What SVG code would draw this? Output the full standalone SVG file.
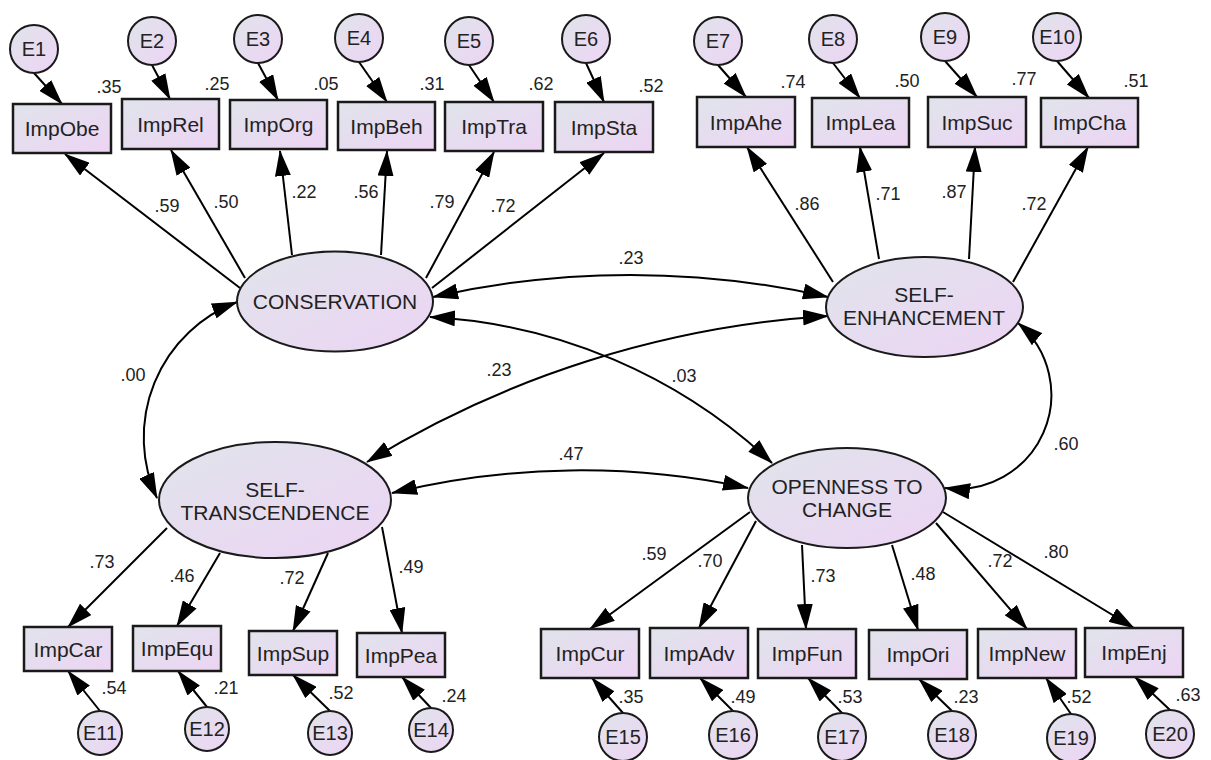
<svg xmlns="http://www.w3.org/2000/svg" width="1211" height="760" viewBox="0 0 1211 760">
<defs>
<linearGradient id="g" x1="0" y1="0" x2="1" y2="1">
<stop offset="0" stop-color="#e0e4eb"/>
<stop offset="1" stop-color="#edd4f4"/>
</linearGradient>
<marker id="ah" viewBox="0 0 26 16" refX="25" refY="8" markerWidth="26" markerHeight="16" markerUnits="userSpaceOnUse" orient="auto-start-reverse">
<path d="M0,0 L26,8 L0,16 z" fill="#000"/>
</marker>
</defs>
<style>
.box{fill:url(#g);stroke:#1a1a1a;stroke-width:2.5}
.lat{fill:url(#g);stroke:#1a1a1a;stroke-width:2}
.err{fill:url(#g);stroke:#1a1a1a;stroke-width:2}
text{font-family:"Liberation Sans",Arial,sans-serif;fill:#222;text-anchor:middle}
.t{font-size:21px}
.e{font-size:20px}
.n{font-size:18px}
#connectors path{fill:none;stroke:#000;stroke-width:2;marker-end:url(#ah)}
#connectors path.cov{marker-start:url(#ah)}
</style>
<rect width="1211" height="760" fill="#fff"/>

<g id="connectors">
<path d="M34,73 L62,104"/>
<path d="M152,65 L170,99"/>
<path d="M258,63 L278,100"/>
<path d="M359,62 L387,102"/>
<path d="M469,65 L494,102"/>
<path d="M586,63 L604,102"/>
<path d="M718,65 L746,97"/>
<path d="M833,63 L860,98"/>
<path d="M945,61 L977,97"/>
<path d="M1057,61 L1089,98"/>
<path d="M240,288 L65,154"/>
<path d="M245,278 L171,150"/>
<path d="M292,255 L280,151"/>
<path d="M381,255 L387,151"/>
<path d="M426,278 L494,152"/>
<path d="M432,288 L604,153"/>
<path d="M833,282 L747,147"/>
<path d="M879,259 L860,147"/>
<path d="M969,259 L975,147"/>
<path d="M1013,282 L1088,147"/>
<path d="M167,528 L68,627"/>
<path d="M220,553 L177,626"/>
<path d="M328,553 L293,631"/>
<path d="M382,527 L402,633"/>
<path d="M750,512 L590,629"/>
<path d="M756,521 L699,628"/>
<path d="M802,545 L806,629"/>
<path d="M892,545 L918,630"/>
<path d="M936,523 L1027,629"/>
<path d="M943,512 L1134,628"/>
<path d="M100,711 L68,671"/>
<path d="M207,707 L178,671"/>
<path d="M330,711 L293,675"/>
<path d="M431,708 L402,677"/>
<path d="M623,713 L592,678"/>
<path d="M733,711 L700,678"/>
<path d="M842,713 L808,678"/>
<path d="M952,711 L919,679"/>
<path d="M1071,714 L1046,678"/>
<path d="M1170,710 L1135,677"/>
<path class="cov" d="M433,297 A893,893 0 0 1 828,297"/>
<path class="cov" d="M430,317 A541,541 0 0 1 772,463"/>
<path class="cov" d="M828,316 A1003,1003 0 0 0 367,462"/>
<path class="cov" d="M237,302 A145,145 0 0 0 157,498"/>
<path class="cov" d="M392,493 A798,798 0 0 1 748,488"/>
<path class="cov" d="M1018,323 A94,94 0 0 1 945,488"/>
</g>

<g id="conservation"><ellipse class="lat" cx="335" cy="301.5" rx="98" ry="50"/><text class="t" x="335" y="309">CONSERVATION</text></g>
<g id="self-enhancement"><ellipse class="lat" cx="924.5" cy="307" rx="98.5" ry="50"/><text class="t" x="924" y="302">SELF-</text><text class="t" x="924" y="325">ENHANCEMENT</text></g>
<g id="self-transcendence"><ellipse class="lat" cx="275" cy="500" rx="116" ry="58"/><text class="t" x="275" y="497">SELF-</text><text class="t" x="275" y="520">TRANSCENDENCE</text></g>
<g id="openness"><ellipse class="lat" cx="847" cy="498" rx="99" ry="50"/><text class="t" x="847" y="494">OPENNESS TO</text><text class="t" x="847" y="517">CHANGE</text></g>

<g id="ImpObe"><rect class="box" x="13" y="104" width="98" height="49"/><text class="t" x="62" y="136">ImpObe</text></g>
<g id="ImpRel"><rect class="box" x="122" y="99" width="97" height="50"/><text class="t" x="170.5" y="131.5">ImpRel</text></g>
<g id="ImpOrg"><rect class="box" x="230" y="100" width="97" height="49"/><text class="t" x="278.5" y="132">ImpOrg</text></g>
<g id="ImpBeh"><rect class="box" x="338" y="102" width="97" height="48"/><text class="t" x="386.5" y="133.5">ImpBeh</text></g>
<g id="ImpTra"><rect class="box" x="445" y="102" width="98" height="49"/><text class="t" x="494" y="134">ImpTra</text></g>
<g id="ImpSta"><rect class="box" x="555" y="102" width="98" height="50"/><text class="t" x="604" y="134.5">ImpSta</text></g>
<g id="ImpAhe"><rect class="box" x="697" y="97" width="98" height="50"/><text class="t" x="746" y="129.5">ImpAhe</text></g>
<g id="ImpLea"><rect class="box" x="812" y="98" width="97" height="49"/><text class="t" x="860.5" y="130">ImpLea</text></g>
<g id="ImpSuc"><rect class="box" x="928" y="97" width="98" height="50"/><text class="t" x="977" y="129.5">ImpSuc</text></g>
<g id="ImpCha"><rect class="box" x="1041" y="98" width="97" height="49"/><text class="t" x="1089.5" y="130">ImpCha</text></g>

<g id="ImpCar"><rect class="box" x="24" y="627" width="88" height="44"/><text class="t" x="68" y="656.5">ImpCar</text></g>
<g id="ImpEqu"><rect class="box" x="133" y="626" width="88" height="45"/><text class="t" x="177" y="656">ImpEqu</text></g>
<g id="ImpSup"><rect class="box" x="249" y="631" width="88" height="44"/><text class="t" x="293" y="660.5">ImpSup</text></g>
<g id="ImpPea"><rect class="box" x="357" y="633" width="88" height="44"/><text class="t" x="401" y="662.5">ImpPea</text></g>

<g id="ImpCur"><rect class="box" x="541" y="629" width="98" height="49"/><text class="t" x="590" y="661">ImpCur</text></g>
<g id="ImpAdv"><rect class="box" x="650" y="628" width="98" height="50"/><text class="t" x="699" y="660.5">ImpAdv</text></g>
<g id="ImpFun"><rect class="box" x="758" y="629" width="98" height="49"/><text class="t" x="807" y="661">ImpFun</text></g>
<g id="ImpOri"><rect class="box" x="869" y="630" width="98" height="49"/><text class="t" x="918" y="662">ImpOri</text></g>
<g id="ImpNew"><rect class="box" x="978" y="629" width="98" height="49"/><text class="t" x="1027" y="661">ImpNew</text></g>
<g id="ImpEnj"><rect class="box" x="1085" y="628" width="98" height="49"/><text class="t" x="1134" y="660">ImpEnj</text></g>

<g id="E1"><circle class="err" cx="34" cy="49" r="24"/><text class="e" x="34" y="56">E1</text></g>
<g id="E2"><circle class="err" cx="152" cy="41" r="24"/><text class="e" x="152" y="48">E2</text></g>
<g id="E3"><circle class="err" cx="258" cy="39" r="24"/><text class="e" x="258" y="46">E3</text></g>
<g id="E4"><circle class="err" cx="359" cy="38" r="24"/><text class="e" x="359" y="45">E4</text></g>
<g id="E5"><circle class="err" cx="469" cy="41" r="24"/><text class="e" x="469" y="48">E5</text></g>
<g id="E6"><circle class="err" cx="586" cy="39" r="24"/><text class="e" x="586" y="46">E6</text></g>
<g id="E7"><circle class="err" cx="718" cy="41" r="24"/><text class="e" x="718" y="48">E7</text></g>
<g id="E8"><circle class="err" cx="833" cy="39" r="24"/><text class="e" x="833" y="46">E8</text></g>
<g id="E9"><circle class="err" cx="945" cy="37" r="24"/><text class="e" x="945" y="44">E9</text></g>
<g id="E10"><circle class="err" cx="1057" cy="37" r="24"/><text class="e" x="1057" y="44">E10</text></g>
<g id="E11"><circle class="err" cx="100" cy="733" r="22"/><text class="e" x="100" y="740">E11</text></g>
<g id="E12"><circle class="err" cx="207" cy="729" r="22"/><text class="e" x="207" y="736">E12</text></g>
<g id="E13"><circle class="err" cx="330" cy="733" r="22"/><text class="e" x="330" y="740">E13</text></g>
<g id="E14"><circle class="err" cx="431" cy="730" r="22"/><text class="e" x="431" y="737">E14</text></g>
<g id="E15"><circle class="err" cx="623" cy="737" r="24"/><text class="e" x="623" y="744">E15</text></g>
<g id="E16"><circle class="err" cx="733" cy="735" r="24"/><text class="e" x="733" y="742">E16</text></g>
<g id="E17"><circle class="err" cx="842" cy="737" r="24"/><text class="e" x="842" y="744">E17</text></g>
<g id="E18"><circle class="err" cx="952" cy="735" r="24"/><text class="e" x="952" y="742">E18</text></g>
<g id="E19"><circle class="err" cx="1071" cy="738" r="24"/><text class="e" x="1071" y="745">E19</text></g>
<g id="E20"><circle class="err" cx="1170" cy="734" r="24"/><text class="e" x="1170" y="741">E20</text></g>

<g id="labels">
<text class="n" x="109" y="93">.35</text>
<text class="n" x="217" y="90">.25</text>
<text class="n" x="326" y="90">.05</text>
<text class="n" x="432" y="90">.31</text>
<text class="n" x="541" y="90">.62</text>
<text class="n" x="651" y="92">.52</text>
<text class="n" x="793" y="88">.74</text>
<text class="n" x="907" y="87">.50</text>
<text class="n" x="1024" y="85">.77</text>
<text class="n" x="1136" y="87">.51</text>
<text class="n" x="167" y="212">.59</text>
<text class="n" x="226" y="208">.50</text>
<text class="n" x="304" y="198">.22</text>
<text class="n" x="366" y="198">.56</text>
<text class="n" x="442" y="208">.79</text>
<text class="n" x="503" y="212">.72</text>
<text class="n" x="807" y="210">.86</text>
<text class="n" x="888" y="200">.71</text>
<text class="n" x="954" y="198">.87</text>
<text class="n" x="1034" y="210">.72</text>
<text class="n" x="631" y="264">.23</text>
<text class="n" x="133" y="381">.00</text>
<text class="n" x="499" y="376">.23</text>
<text class="n" x="684" y="382">.03</text>
<text class="n" x="571" y="460">.47</text>
<text class="n" x="1066" y="450">.60</text>
<text class="n" x="102" y="568">.73</text>
<text class="n" x="182" y="582">.46</text>
<text class="n" x="292" y="584">.72</text>
<text class="n" x="411" y="573">.49</text>
<text class="n" x="114" y="694">.54</text>
<text class="n" x="226" y="694">.21</text>
<text class="n" x="341" y="699">.52</text>
<text class="n" x="454" y="702">.24</text>
<text class="n" x="654" y="560">.59</text>
<text class="n" x="710" y="567">.70</text>
<text class="n" x="823" y="582">.73</text>
<text class="n" x="923" y="580">.48</text>
<text class="n" x="1000" y="567">.72</text>
<text class="n" x="1056" y="558">.80</text>
<text class="n" x="631" y="703">.35</text>
<text class="n" x="743" y="703">.49</text>
<text class="n" x="850" y="703">.53</text>
<text class="n" x="966" y="703">.23</text>
<text class="n" x="1079" y="703">.52</text>
<text class="n" x="1188" y="701">.63</text>
</g>
</svg>
